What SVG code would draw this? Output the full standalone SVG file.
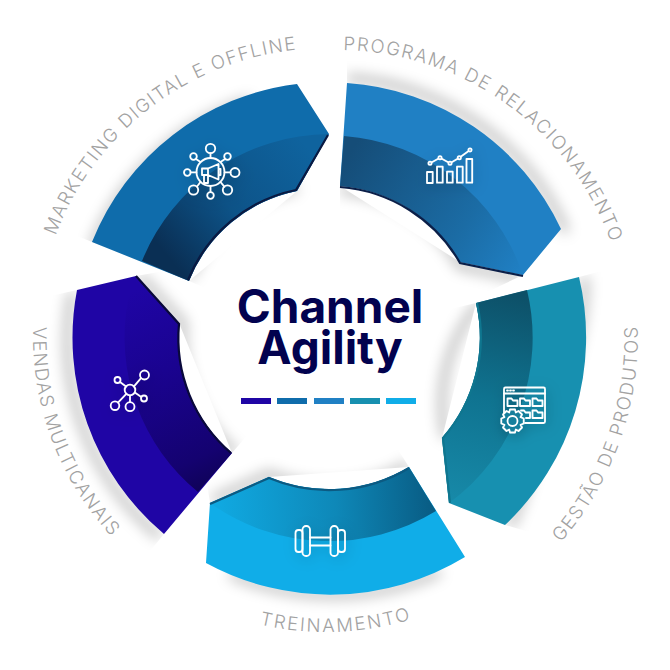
<svg xmlns="http://www.w3.org/2000/svg" width="670" height="670" viewBox="0 0 670 670">
<style>
.sh{fill:none;stroke:#000;stroke-width:6;stroke-opacity:.36;filter:url(#blur)}
.lab{font-family:"Inter","Liberation Sans",sans-serif;font-size:18.500px;font-weight:300;fill:#a2a2a2;letter-spacing:1.500px;text-anchor:middle}
.ic{fill:none;stroke:#fff;stroke-width:1.8;stroke-linejoin:round;stroke-linecap:round}
.ttl{font-family:"Inter","Liberation Sans",sans-serif;font-size:46px;font-weight:700;fill:#02024f;text-anchor:middle}
.rim{fill:none;stroke-width:2.2;stroke-linejoin:miter}
</style>
<defs>
<filter id="blur" filterUnits="userSpaceOnUse" x="0" y="0" width="670" height="670"><feGaussianBlur stdDeviation="7"/></filter>
<filter id="ics" filterUnits="userSpaceOnUse" x="0" y="0" width="670" height="670"><feDropShadow dx="2" dy="3" stdDeviation="7" flood-color="#000" flood-opacity=".22"/></filter>
<linearGradient id="b1" gradientUnits="userSpaceOnUse" x1="175" y1="265" x2="310" y2="150"><stop offset="0" stop-color="#0a2f54"/><stop offset=".45" stop-color="#0d5388"/><stop offset="1" stop-color="#0f639e"/></linearGradient>
<linearGradient id="b2" gradientUnits="userSpaceOnUse" x1="345" y1="160" x2="520" y2="275"><stop offset="0" stop-color="#154d78"/><stop offset=".65" stop-color="#1b6ca5"/><stop offset="1" stop-color="#2080c4"/></linearGradient>
<linearGradient id="b3" gradientUnits="userSpaceOnUse" x1="500" y1="290" x2="450" y2="500"><stop offset="0" stop-color="#0d5068"/><stop offset=".5" stop-color="#0f7390"/><stop offset="1" stop-color="#1789a8"/></linearGradient>
<linearGradient id="b4" gradientUnits="userSpaceOnUse" x1="220" y1="500" x2="430" y2="490"><stop offset="0" stop-color="#10a8e0"/><stop offset=".55" stop-color="#0e88b8"/><stop offset="1" stop-color="#095d85"/></linearGradient>
<linearGradient id="b5" gradientUnits="userSpaceOnUse" x1="135" y1="290" x2="225" y2="480"><stop offset="0" stop-color="#1f05a5"/><stop offset=".4" stop-color="#1a0390"/><stop offset=".85" stop-color="#140270"/><stop offset="1" stop-color="#0f0258"/></linearGradient>
<clipPath id="c1o"><polygon points="40,221 92,242 189,281 329,134 320,30 40,30"/></clipPath>
<clipPath id="c1i"><polygon points="189,281 215,292 240,300 340,240 329,134 297,191"/></clipPath>
<clipPath id="c2o"><polygon points="347,40 347,83 523,275 610,260 650,200 430,40"/></clipPath>
<clipPath id="c2i"><polygon points="340,186 340,250 470,300 523,275 460,262"/></clipPath>
<clipPath id="c3o"><polygon points="579,277 625,265 660,265 660,570 505,525"/></clipPath>
<clipPath id="c3i"><polygon points="455,308 476,303 442,438 449,503 410,500 410,320"/></clipPath>
<clipPath id="c4o"><polygon points="206,563 206,640 490,640 482,584 465,557"/></clipPath>
<clipPath id="c4i"><polygon points="210,503 269,477 409,467 390,437 250,420 205,470"/></clipPath>
<clipPath id="c5o"><polygon points="55,295 77,290 164,534 146,556 30,520 30,290"/></clipPath>
<clipPath id="c5i"><polygon points="136,276 179,323 232,453 250,432 260,340 170,270"/></clipPath>
<path id="t1" d="M50.600,424.300 A289 289 0 0 1 480.900,93.100"/>
<path id="t2" d="M175,100.200 A290 290 0 0 1 617,419"/>
<path id="t3" d="M382.800,643.800 A312 312 0 0 0 563.100,134.500"/>
<path id="t4" d="M75.800,493.300 A295 295 0 0 0 586.500,475.400"/>
<path id="t5" d="M101.600,148.700 A293 293 0 0 0 275,625.500"/>
</defs>
<rect width="670" height="670" fill="#fff"/>

<g id="node-marketing">
<g clip-path="url(#c1o)"><path class="sh" d="M92,248 A254 254 0 0 1 250,100"/></g>
<g clip-path="url(#c1i)"><path class="sh" d="M297,188 A148 148 0 0 0 189,278"/></g>
<path fill="#0f6cab" d="M92,242 A254 254 0 0 1 297,84 L329,134 L297,191 A148 148 0 0 0 189,281 Z"/>
<path fill="url(#b1)" d="M142,261 A203 203 0 0 1 329,134 L297,191 A148 148 0 0 0 189,281 Z"/>
<path class="rim" stroke="#0a1a42" d="M328,135 L296,190 A148 148 0 0 0 188,280"/>
<g class="ic" filter="url(#ics)">
<circle cx="210.500" cy="172" r="14"/>
<circle cx="210.500" cy="148.500" r="4.700"/><circle cx="227.500" cy="156.500" r="3.300"/><circle cx="235" cy="172.500" r="4.500"/><circle cx="227.500" cy="190" r="4.700"/><circle cx="210.500" cy="195.500" r="3.300"/><circle cx="193.500" cy="190" r="4.700"/><circle cx="187.300" cy="172.500" r="3.300"/><circle cx="193.500" cy="156.500" r="3.300"/>
<path d="M210.500,153.200 V158 M225,159 L220.500,162 M230.500,172.300 H224.500 M224.500,186.800 L220.500,182 M210.500,192.200 V186 M197,186.500 L200.500,182 M190.600,172.300 H196.500 M196,159 L200.500,162"/>
<path d="M202,168.500 H208 L218.500,164 V179.500 L208,175 H202 Z M208,168.500 V175 M204,175 V183 H208 V175 M218.500,169 H220.500 V175 H218.500"/>
</g>
<text class="lab"><textPath href="#t1" startOffset="50%">MARKETING DIGITAL E OFFLINE</textPath></text>
</g>

<g id="node-programa">
<g clip-path="url(#c2o)"><path class="sh" d="M347,78 A255 255 0 0 1 566,232"/></g>
<g clip-path="url(#c2i)"><path class="sh" d="M340,190 A151 151 0 0 1 460,266 L523,279"/></g>
<path fill="#2080c4" d="M347,83 A255 255 0 0 1 561,229 L523,275 L460,262 A151 151 0 0 0 340,186 Z"/>
<path fill="url(#b2)" d="M344,136 A205 205 0 0 1 523,275 L460,262 A151 151 0 0 0 340,186 Z"/>
<path class="rim" stroke="#0b1f48" d="M340,187 A151 151 0 0 1 460,263 L523,276"/>
<g class="ic" filter="url(#ics)">
<rect x="427" y="172" width="5.700" height="11"/><rect x="437" y="166.700" width="5.700" height="16"/><rect x="447" y="171.700" width="5.700" height="11"/><rect x="457" y="166.700" width="5.700" height="16"/><rect x="466.500" y="159" width="5.700" height="23.700"/>
<path d="M430,163.300 L440,157.700 L450,163.300 L459.300,157.700 L470,150"/>
<circle cx="430" cy="163.300" r="1.600" fill="#2080c4"/><circle cx="440" cy="157.700" r="1.600" fill="#2080c4"/><circle cx="450" cy="163.300" r="1.600" fill="#2080c4"/><circle cx="459.300" cy="157.700" r="1.600" fill="#2080c4"/><circle cx="470" cy="150" r="1.600" fill="#2080c4"/>
</g>
<text class="lab" style="letter-spacing:1.600px"><textPath href="#t2" startOffset="50%">PROGRAMA DE RELACIONAMENTO</textPath></text>
</g>

<g id="node-gestao">
<g clip-path="url(#c3o)"><path class="sh" d="M585,277 A258 258 0 0 1 535,430" stroke-opacity=".3"/><path class="sh" d="M535,430 A258 258 0 0 1 510,527" stroke-opacity=".14"/></g>
<g clip-path="url(#c3i)"><path class="sh" d="M480,303 A153 153 0 0 0 446,438"/></g>
<path fill="#1790b0" d="M579,277 A258 258 0 0 1 505,525 L449,503 L442,438 A153 153 0 0 0 476,303 Z"/>
<path fill="url(#b3)" d="M527,290 A205 205 0 0 1 449,503 L442,438 A153 153 0 0 0 476,303 Z"/>
<path class="rim" stroke="#0f768f" d="M477,303 A153 153 0 0 1 443,438 L450,503"/>
<g class="ic" filter="url(#ics)" stroke-width="1.500">
<path d="M504,416 V389 Q504,387.500 505.500,387.500 H543.500 Q545,387.500 545,389 V421.500 Q545,423 543.500,423 H525"/>
<path d="M504,393.500 H545 M507,390.500 H508 M510,390.500 H511 M513,390.500 H514"/>
<path d="M507.500,398.500 H511.500 L513,400.500 H517.500 V406 H507.500 Z M520,398.500 H524 L525.500,400.500 H530 V406 H520 Z M532.500,398.500 H536.500 L538,400.500 H542.500 V406 H532.500 Z M532.500,410.500 H536.500 L538,412.500 H542.500 V418 H532.500 Z M521,410.500 H524 L525.500,412.500 H530 V418 H526"/>
<path d="M510,409.500 H515 L515.800,412.500 L518.500,411 L522,414.500 L520.500,417.200 L523.700,418.500 V423.500 L520.500,424.800 L522,427.500 L518.500,431 L515.800,429.500 L515,432.500 H510 L509.200,429.500 L506.500,431 L503,427.500 L504.500,424.800 L501.300,423.500 V418.500 L504.500,417.200 L503,414.500 L506.500,411 L509.200,412.500 Z" fill="#147f9c"/>
<circle cx="512.500" cy="421" r="5"/>
</g>
<text class="lab"><textPath href="#t3" startOffset="50%">GESTÃO DE PRODUTOS</textPath></text>
</g>

<g id="node-treinamento">
<g clip-path="url(#c4o)"><path class="sh" d="M230,574 A260 260 0 0 0 440,572"/></g>
<g clip-path="url(#c4i)"><path class="sh" d="M212,500 L269,474 A155 155 0 0 0 409,464"/></g>
<path fill="#10ade8" d="M206,563 A260 260 0 0 0 465,557 L409,467 A155 155 0 0 1 269,477 L210,503 Z"/>
<path fill="url(#b4)" d="M210,503 A205 205 0 0 0 436,511 L409,467 A155 155 0 0 1 269,477 Z"/>
<path class="rim" stroke="#0c5a82" d="M210,504 L269,478 A155 155 0 0 0 409,468"/>
<g class="ic" filter="url(#ics)" stroke-width="2.200">
<rect x="295.500" y="530" width="7" height="22" rx="3"/><rect x="302.500" y="526" width="7.500" height="30" rx="3.500"/><rect x="330.500" y="526" width="7.500" height="30" rx="3.500"/><rect x="338" y="530" width="7" height="22" rx="3"/><path d="M310,537.500 H330.500 M310,545.500 H330.500"/>
</g>
<text class="lab" style="letter-spacing:2px"><textPath href="#t4" startOffset="50%">TREINAMENTO</textPath></text>
</g>

<g id="node-vendas">
<g clip-path="url(#c5o)"><path class="sh" d="M72,292 A256 256 0 0 0 160,537" stroke-opacity=".2"/></g>
<g clip-path="url(#c5i)"><path class="sh" d="M140,276 L183,323 A152 152 0 0 0 236,453" stroke-opacity=".42"/></g>
<path fill="#1f05a5" d="M77,290 A256 256 0 0 0 164,534 L232,453 A152 152 0 0 1 179,323 L136,276 Z"/>
<path fill="url(#b5)" d="M128,300 A200 200 0 0 0 198,492 L232,453 A152 152 0 0 1 179,323 L136,276 Z"/>
<path class="rim" stroke="#09093a" d="M136,276 L179,324 A152 152 0 0 0 231,453"/>
<g class="ic" filter="url(#ics)">
<circle cx="130" cy="390" r="5.300"/><circle cx="117.500" cy="380" r="3"/><circle cx="144.500" cy="375" r="4.500"/><circle cx="144" cy="398.500" r="3"/><circle cx="115" cy="405.700" r="4.300"/><circle cx="130" cy="406.700" r="4.500"/>
<path d="M126,386.500 L120,382 M134,386.300 L141,378.200 M134.800,392.500 L141.300,397 M126.300,393.800 L118,402.700 M130,395.300 V402.200"/>
</g>
<text class="lab"><textPath href="#t5" startOffset="50.500%">VENDAS MULTICANAIS</textPath></text>
</g>

<g id="node-center">
<text class="ttl" x="330" y="323">Channel</text>
<text class="ttl" x="330" y="364">Agility</text>
<rect x="241" y="398" width="30" height="6" fill="#1f05a5"/>
<rect x="277" y="398" width="30" height="6" fill="#0f6cab"/>
<rect x="314" y="398" width="30" height="6" fill="#2080c4"/>
<rect x="350" y="398" width="30" height="6" fill="#1790b0"/>
<rect x="386" y="398" width="30" height="6" fill="#10ade8"/>
</g>
<g id="connectors"/>
</svg>
